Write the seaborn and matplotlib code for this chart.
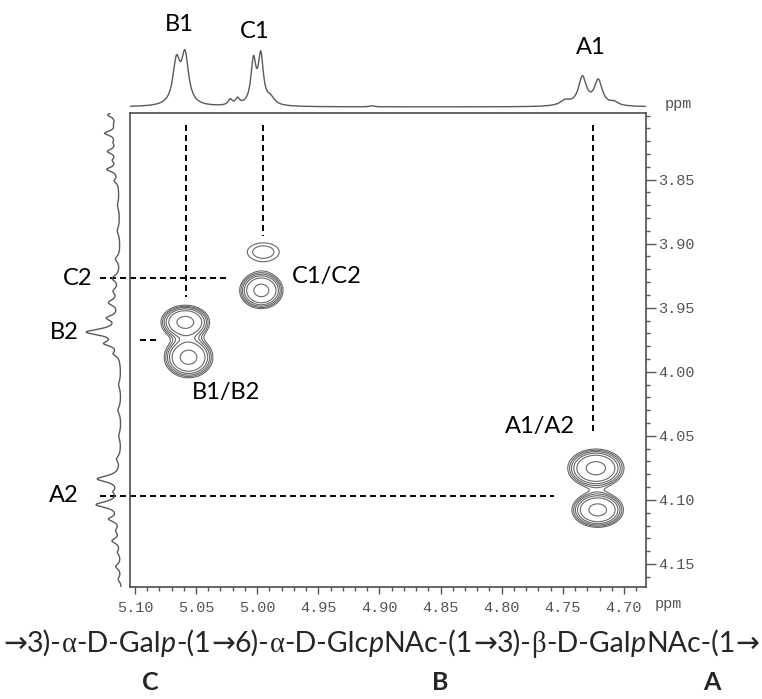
import matplotlib.pyplot as plt
import numpy as np
import seaborn as sns
from matplotlib.ticker import MultipleLocator, FormatStrFormatter

sns.set_theme(style='white')
plt.rcParams['font.family'] = ['Lato', 'DejaVu Sans']
plt.rcParams['lines.scale_dashes'] = False

## Assignments (ppm) -------------------------------------------------------
residues = ['A', 'B', 'C']
h1_ppm = [4.7255, 5.058, 4.995]
h2_ppm = [4.0966, 3.975, 3.927]

## COSY cross peaks, two lobes per residue --------------------------------
cross_h1 = [5.0588, 5.0561, 4.9950, 4.9966, 4.7230, 4.7215]
cross_h2 = [3.9613, 3.9887, 3.9065, 3.9365, 4.0753, 4.1078]
cross_amp = [1.0, 1.0, 0.23, 1.0, 1.0, 1.0]
cross_wx = [0.0102, 0.0102, 0.0141, 0.0091, 0.0118, 0.0108]
cross_wy = [0.0068, 0.0082, 0.0077, 0.0073, 0.0077, 0.0070]
contour_levels = [0.15, 0.19, 0.24, 0.31, 0.42, 0.8]

## 1D projection on top (H1 region) ----------------------------------------
top_ppm = [5.066, 5.059, 5.022, 5.016, 5.003, 4.997, 4.989, 4.906,
           4.748, 4.734, 4.721, 4.708]
top_int = [0.74, 0.85, 0.10, 0.11, 0.76, 0.84, 0.12, 0.02,
           0.09, 0.50, 0.44, 0.06]
top_hw = [0.0035, 0.0035, 0.002, 0.002, 0.0025, 0.0025, 0.004, 0.002,
          0.005, 0.004, 0.004, 0.004]

## 1D projection on the left (H2 region) -----------------------------------
left_ppm = [3.800, 3.7995, 3.8066, 3.8138, 3.8210, 3.8280, 3.8350, 3.8420,
            3.8510, 3.870, 3.890, 3.912, 3.927, 3.937, 3.946, 3.958,
            3.969, 3.978, 3.986, 4.010, 4.030, 4.050, 4.068, 4.0836,
            4.0937, 4.1037, 4.115, 4.124, 4.132, 4.141, 4.152, 4.162]
left_int = [0.13, 0.22, 0.04, 0.30, 0.06, 0.24, 0.10, 0.28,
            0.10, 0.05, 0.07, 0.12, 0.20, 0.15, 0.28, 0.30,
            0.85, 0.35, 0.15, 0.06, 0.08, 0.06, 0.10, 0.60,
            0.12, 0.62, 0.28, 0.10, 0.22, 0.08, 0.14, 0.08]
left_hw = [0.06, 0.0022, 0.002, 0.0022, 0.002, 0.0022, 0.002, 0.0022,
           0.002, 0.004, 0.004, 0.003, 0.003, 0.003, 0.003, 0.0025,
           0.003, 0.0025, 0.0025, 0.004, 0.004, 0.004, 0.003, 0.003,
           0.0025, 0.003, 0.0025, 0.0025, 0.0025, 0.0025, 0.0025, 0.0025]

x_ticks = [5.10, 5.05, 5.00, 4.95, 4.90, 4.85, 4.80, 4.75, 4.70]
y_ticks = [3.85, 3.90, 3.95, 4.00, 4.05, 4.10, 4.15]
x_lim = (5.104, 4.682)
y_lim = (4.168, 3.798)

# repeat unit, pieces: (text, style)
formula = [('→', 'arr'), ('3)-', 'n'), ('α', 'sym'), ('-D-Gal', 'n'), ('p', 'it'),
           ('-(1', 'n'), ('→', 'arr'), ('6)-', 'n'), ('α', 'sym'), ('-D-Glc', 'n'),
           ('p', 'it'), ('NAc-(1', 'n'), ('→', 'arr'), ('3)-', 'n'), ('β', 'sym'),
           ('-D-Gal', 'n'), ('p', 'it'), ('NAc-(1', 'n'), ('→', 'arr')]


def lorentz_sum(grid, centres, heights, widths):
    out = np.zeros_like(grid)
    for c, h, w in zip(centres, heights, widths):
        out += h / (1 + ((grid - c) / w) ** 2)
    return out


W, H = 762, 699
fig = plt.figure(figsize=(W / 100, H / 100), dpi=100)


def px_box(x0, y0, x1, y1):
    return [x0 / W, 1 - y1 / H, (x1 - x0) / W, (y1 - y0) / H]


ax = fig.add_axes(px_box(130, 113, 646, 587))
ax_top = fig.add_axes(px_box(130, 0, 646, 110))
ax_left = fig.add_axes(px_box(40, 113, 128, 587))

## 2D contours ---------------------------------------------------------------
gx = np.linspace(x_lim[0], x_lim[1], 500)
gy = np.linspace(y_lim[1], y_lim[0], 500)
GX, GY = np.meshgrid(gx, gy)
Z = np.zeros_like(GX)
for x0, y0, a, wx, wy in zip(cross_h1, cross_h2, cross_amp, cross_wx, cross_wy):
    Z += a * np.exp(-((GX - x0) / wx) ** 2 / 2 - ((GY - y0) / wy) ** 2 / 2)
ax.contour(GX, GY, Z, levels=contour_levels, colors='#686868', linewidths=0.8)

ax.set_xlim(*x_lim)
ax.set_ylim(*y_lim)
ax.set_xticks(x_ticks)
ax.set_yticks(y_ticks)
ax.xaxis.set_major_formatter(FormatStrFormatter('%.2f'))
ax.yaxis.set_major_formatter(FormatStrFormatter('%.2f'))
ax.xaxis.set_minor_locator(MultipleLocator(0.01))
ax.yaxis.set_minor_locator(MultipleLocator(0.01))
ax.yaxis.tick_right()
ax.xaxis.tick_bottom()
ax.tick_params(which='both', direction='out', color='#555555', width=1,
               labelcolor='#555555', labelsize=11, labelfontfamily='Liberation Mono')
ax.tick_params(axis='x', which='major', length=5, pad=5)
ax.tick_params(axis='y', which='major', length=7, pad=1.5)
ax.tick_params(which='minor', length=3)
for sp in ax.spines.values():
    sp.set_color('#4d4d4d')
    sp.set_linewidth(1.2)
ax.grid(False)

ax.text(1 + 9 / 516, -17 / 474, 'ppm', transform=ax.transAxes, ha='left', va='center',
        fontsize=11, color='#555555', family='Liberation Mono')
ax.text(1 + 19 / 516, 1 + 9 / 474, 'ppm', transform=ax.transAxes, ha='left', va='center',
        fontsize=11, color='#555555', family='Liberation Mono')

## dashed assignment lines ---------------------------------------------------
dash = dict(color='black', lw=1.4, ls=(0, (4.3, 2.9)), clip_on=False)
hA, hB, hC = h1_ppm
vA, vB, vC = h2_ppm
ax.plot([hB, hB], [3.807, 3.942], **dash)
ax.plot([hC, hC], [3.807, 3.894], **dash)
ax.plot([hA, hA], [3.807, 4.049], **dash)
ax.plot([5.1285, 5.023], [vC, vC], **dash)
ax.plot([5.096, 5.080], [vB, vB], **dash)
ax.plot([5.1285, 4.7576], [vA, vA], **dash)

lab = dict(fontsize=17, color='black')
ax.text(4.972, 3.926, 'C1/C2', ha='left', va='center', **lab)
ax.text(5.053, 4.016, 'B1/B2', ha='left', va='center', **lab)
ax.text(4.7685, 4.043, 'A1/A2', ha='center', va='center', **lab)

## top projection ------------------------------------------------------------
tx = np.linspace(x_lim[0], x_lim[1], 3000)
sns.lineplot(x=tx, y=lorentz_sum(tx, top_ppm, top_int, top_hw), ax=ax_top,
             color='#5a5a5a', lw=1.0, estimator=None)
ax_top.set_xlim(*x_lim)
ax_top.set_ylim(-0.053, 1.877)
ax_top.axis('off')
ax_top.text(5.064, 1.44, 'B1', ha='center', va='center', **lab)
ax_top.text(5.002, 1.32, 'C1', ha='center', va='center', **lab)
ax_top.text(4.727, 1.05, 'A1', ha='center', va='center', **lab)

## left projection -----------------------------------------------------------
ly = np.linspace(y_lim[1], y_lim[0], 3000)
sns.lineplot(x=lorentz_sum(ly, left_ppm, left_int, left_hw), y=ly, ax=ax_left,
             color='#5a5a5a', lw=1.0, estimator=None, sort=False, orient='y')
ax_left.set_ylim(*y_lim)
ax_left.set_xlim(2.103, -0.154)
ax_left.axis('off')
ax_left.text(1.15, vC, 'C2', ha='center', va='center', **lab)
ax_left.text(1.49, 3.969, 'B2', ha='center', va='center', **lab)
ax_left.text(1.49, vA, 'A2', ha='center', va='center', **lab)

## repeating unit under the plot -------------------------------------------
styles = {'n': dict(family=['Lato', 'DejaVu Sans']),
          'it': dict(family=['Lato', 'DejaVu Sans'], style='italic'),
          'sym': dict(family=['Liberation Serif', 'DejaVu Serif']),
          'arr': dict(family=['DejaVu Sans'])}
renderer = fig.canvas.get_renderer()
texts = [fig.text(0, 1 - 652 / H, s, fontsize=18, va='baseline', **styles[k])
         for s, k in formula]
widths = [t.get_window_extent(renderer).width for t in texts]
# fit the line to the figure width, as in the original
size = 18 * 756 / sum(widths)
for t in texts:
    t.set_fontsize(size)
widths = [t.get_window_extent(renderer).width for t in texts]
xpos = (W - sum(widths)) / 2
for t, w in zip(texts, widths):
    t.set_x(xpos / W)
    xpos += w

for name, xc in zip(residues, [712, 440, 150]):
    fig.text(xc / W, 1 - 683 / H, name, fontsize=18, fontweight='bold',
             ha='center', va='center')

fig.savefig('out.png', dpi=100)
